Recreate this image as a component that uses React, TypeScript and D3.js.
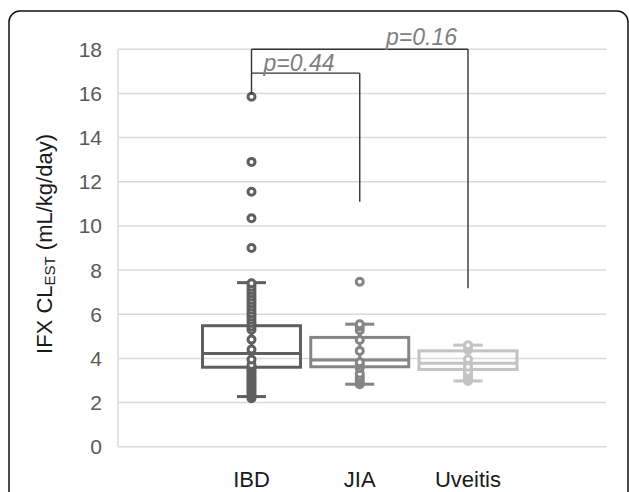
import React from "react";
import * as d3 from "d3";

const categories = ["IBD", "JIA", "Uveitis"];
const yTicks = [0, 2, 4, 6, 8, 10, 12, 14, 16, 18];

const whiskerLow = [2.27, 2.83, 2.98];
const q1 = [3.6, 3.62, 3.5];
const median = [4.22, 3.93, 3.78];
const q3 = [5.48, 4.95, 4.34];
const whiskerHigh = [7.43, 5.55, 4.6];

const ibdPoints = [2.2, 2.3, 2.4, 2.5, 2.6, 2.7, 2.8, 2.9, 3.0, 3.1, 3.2, 3.3, 3.4, 3.5, 3.6, 3.7, 3.95, 4.4, 4.85, 5.3, 5.45, 5.6, 5.75, 5.9, 6.05, 6.2, 6.35, 6.5, 6.65, 6.8, 6.95, 7.1, 7.25, 7.4, 9.0, 10.35, 11.55, 12.9, 15.85];
const jiaPoints = [2.83, 2.95, 3.05, 3.17, 3.3, 3.56, 3.7, 3.82, 4.34, 4.83, 5.28, 5.45, 5.55, 7.47];
const uveitisPoints = [2.98, 3.1, 3.2, 3.3, 3.4, 3.62, 3.96, 4.38, 4.5, 4.6];
const pointSets = [ibdPoints, jiaPoints, uveitisPoints];

const colors = ["#5f5f5f", "#858585", "#c3c3c3"];

const bracketFrom = ["IBD", "IBD"];
const bracketTo = ["JIA", "Uveitis"];
const bracketTop = [16.92, 18];
const bracketRightEnd = [11.1, 7.18];
const bracketLeftEnd = 15.95;
const bracketLabels = ["p=0.44", "p=0.16"];

export default function App() {
  const W = 629;
  const H = 492;
  const x = d3.scalePoint<string>().domain(categories).range([251.5, 468]);
  const y = d3.scaleLinear().domain([0, 18]).range([446.7, 49.3]);
  const plotLeft = 118;
  const plotRight = 606;
  const boxW = 98;
  const capW = 29;
  const font = "'Liberation Sans', Arial, sans-serif";

  return (
    <svg width={W} height={H} style={{ position: "absolute", left: 0, top: 0, background: "#fff" }} fontFamily={font}>
      <rect x={9} y={11} width={619} height={560} rx={11} ry={11} fill="#fff" stroke="#111" strokeWidth={1.5} />
      {/* gridlines */}
      {yTicks.map((t) => (
        <line key={"g" + t} x1={plotLeft} x2={plotRight} y1={y(t)} y2={y(t)} stroke="#dadada" strokeWidth={1.5} />
      ))}
      <line x1={plotLeft} x2={plotLeft} y1={y(18)} y2={y(0)} stroke="#dadada" strokeWidth={1.5} />
      {/* tick labels */}
      {yTicks.map((t) => (
        <text key={"t" + t} x={102} y={y(t)} dy="0.36em" textAnchor="end" fontSize={21} fill="#595959">
          {t}
        </text>
      ))}
      {/* y title */}
      <text transform="translate(52,244) rotate(-90)" textAnchor="middle" fontSize={22} fill="#1a1a1a">
        IFX CL<tspan fontSize={15} dy={3}>EST</tspan>
        <tspan dy={-3}> (mL/kg/day)</tspan>
      </text>
      {/* category labels */}
      {categories.map((c) => (
        <text key={"c" + c} x={x(c)} y={487} textAnchor="middle" fontSize={22} fill="#1a1a1a">
          {c}
        </text>
      ))}
      {/* boxes */}
      {categories.map((c, i) => {
        const cx = x(c) as number;
        return (
          <g key={"b" + c} stroke={colors[i]} fill="none" strokeWidth={3}>
            <line x1={cx} x2={cx} y1={y(whiskerLow[i])} y2={y(whiskerHigh[i])} />
            <line x1={cx - capW / 2} x2={cx + capW / 2} y1={y(whiskerLow[i])} y2={y(whiskerLow[i])} />
            <line x1={cx - capW / 2} x2={cx + capW / 2} y1={y(whiskerHigh[i])} y2={y(whiskerHigh[i])} />
            <rect x={cx - boxW / 2} y={y(q3[i])} width={boxW} height={y(q1[i]) - y(q3[i])} />
            <line x1={cx - boxW / 2} x2={cx + boxW / 2} y1={y(median[i])} y2={y(median[i])} />
            {pointSets[i].map((v, j) => (
              <circle key={j} cx={cx} cy={y(v)} r={3.5} fill="#fff" stroke={colors[i]} strokeWidth={3} />
            ))}
          </g>
        );
      })}
      {/* brackets */}
      {bracketFrom.map((f, i) => {
        const x1 = x(f) as number;
        const x2 = x(bracketTo[i]) as number;
        return (
          <g key={"br" + i} stroke="#333" strokeWidth={1.4} fill="none">
            <line x1={x1} x2={x2} y1={y(bracketTop[i])} y2={y(bracketTop[i])} />
            <line x1={x2} x2={x2} y1={y(bracketTop[i])} y2={y(bracketRightEnd[i])} />
          </g>
        );
      })}
      <line x1={x("IBD")} x2={x("IBD")} y1={y(18)} y2={y(bracketLeftEnd)} stroke="#333" strokeWidth={1.4} />
      <text x={(x("IBD") as number) + 12} y={y(bracketTop[0]) - 2} fontSize={23} fontStyle="italic" fill="#808080">
        {bracketLabels[0]}
      </text>
      <text x={(x("Uveitis") as number) - 11} y={y(bracketTop[1]) - 4} textAnchor="end" fontSize={23} fontStyle="italic" fill="#808080">
        {bracketLabels[1]}
      </text>
    </svg>
  );
}
